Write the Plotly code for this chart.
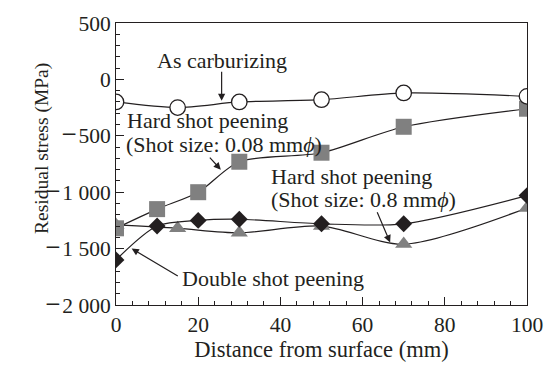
import plotly.graph_objects as go

distance_circle = [0, 15, 30, 50, 70, 100]
as_carburizing = [-200, -250, -200, -180, -120, -150]

distance_square = [0, 10, 20, 30, 50, 70, 100]
hard_008 = [-1320, -1150, -1000, -730, -650, -420, -260]

distance_tri = [0, 15, 30, 50, 70, 100]
hard_08 = [-1290, -1320, -1360, -1300, -1460, -1140]

distance_diam = [0, 10, 20, 30, 50, 70, 100]
double_peen = [-1600, -1300, -1250, -1240, -1280, -1280, -1030]

MINUS = '<span style="font-size:27px">\u2212</span>\u200a'
y_tickvals = [500, 0, -500, -1000, -1500, -2000]
y_ticktext = ["500", "0", MINUS + "500", MINUS + "1 000",
              MINUS + "1 500", MINUS + "2 000"]
x_tickvals = [0, 20, 40, 60, 80, 100]

FONT = "Liberation Serif"
INK = "#231f20"
GRAY = "#808080"
LINE = dict(color=INK, width=1.2, shape="spline", smoothing=0.8)

fig = go.Figure()
fig.add_trace(go.Scatter(x=distance_tri, y=hard_08, mode="lines+markers", line=LINE,
                         marker=dict(symbol="triangle-up", size=15, color=GRAY)))
fig.add_trace(go.Scatter(x=distance_square, y=hard_008, mode="lines+markers", line=LINE,
                         marker=dict(symbol="square", size=16, color=GRAY)))
fig.add_trace(go.Scatter(x=distance_diam, y=double_peen, mode="lines+markers", line=LINE,
                         marker=dict(symbol="diamond", size=13, color=INK)))
fig.add_trace(go.Scatter(x=distance_circle, y=as_carburizing, mode="lines+markers", line=LINE,
                         marker=dict(symbol="circle", size=15.5, color="white",
                                     line=dict(color=INK, width=1.3))))

ann_font = dict(family=FONT, size=22, color=INK)

def arrow(tail, head):
    fig.add_annotation(x=head[0], y=head[1], ax=tail[0], ay=tail[1], xref="x", yref="y",
                       axref="x", ayref="y", showarrow=True, arrowhead=2, arrowsize=1.2,
                       arrowwidth=1.2, arrowcolor=INK, text="")

def label(x, y, text, anchor="left"):
    fig.add_annotation(x=x, y=y, xref="x", yref="y", text=text, showarrow=False,
                       xanchor=anchor, yanchor="middle", align="left", font=ann_font)

label(25.8, 168, "As carburizing", anchor="center")
arrow((25.7, 82), (25.7, -190))
label(2.2, -367, "Hard shot peening")
label(1.9, -575, "(Shot size: 0.08 mm<i>\u03d5</i>)")
arrow((22.5, -680), (25.5, -800))
label(37.3, -860, "Hard shot peening")
label(37.3, -1068, "(Shot size: 0.8 mm<i>\u03d5</i>)")
arrow((63.4, -1165), (66.7, -1445))
label(15.6, -1765, "Double shot peening")
arrow((15.4, -1750), (3.8, -1500))

fig.add_annotation(x=-0.212, y=0.5565, xref="paper", yref="paper", textangle=-90,
                   text="Residual stress (MPa)", showarrow=False,
                   font=dict(family=FONT, size=19.5, color=INK))

fig.update_layout(
    width=555, height=367, margin=dict(l=116, r=24, t=21, b=57),
    paper_bgcolor="white", plot_bgcolor="white", showlegend=False,
    font=dict(family=FONT, size=21.5, color=INK),
)
fig.update_xaxes(range=[0, 100], tickvals=x_tickvals, ticks="inside", ticklen=8,
                 tickcolor=INK, showline=True, linecolor=INK, linewidth=1,
                 mirror=True, showgrid=False, zeroline=False,
                 minor=dict(dtick=4, ticks="inside", ticklen=4, tickcolor=INK),
                 title=dict(text="Distance from surface (mm)", standoff=2,
                            font=dict(size=22.5)))
fig.update_yaxes(range=[-2000, 500], tickvals=y_tickvals, ticktext=y_ticktext,
                 ticks="inside", ticklen=8, tickcolor=INK, showline=True,
                 linecolor=INK, linewidth=1, mirror=True, showgrid=False,
                 zeroline=False,
                 minor=dict(dtick=100, ticks="inside", ticklen=4, tickcolor=INK))

fig.write_html("out.html")
